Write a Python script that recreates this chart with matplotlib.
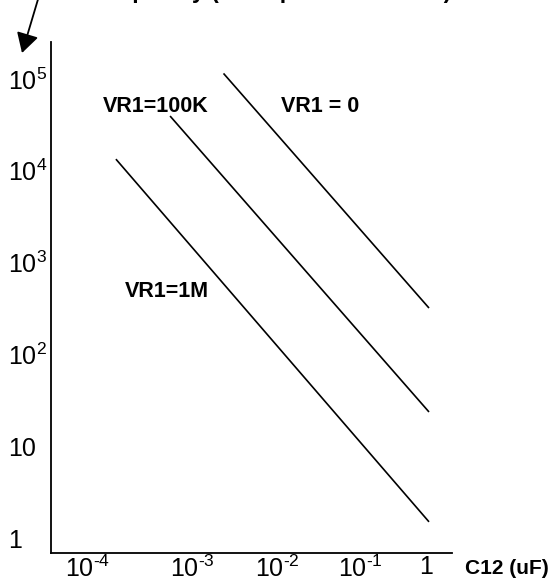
import matplotlib
matplotlib.use("Agg")
import matplotlib.pyplot as plt
from matplotlib.ticker import FixedLocator, FixedFormatter, NullLocator
from matplotlib.transforms import ScaledTranslation

# ---- data ----
series_names = ["VR1 = 0", "VR1=100K", "VR1=1M"]
c_vr0 = [0.0027, 1.0]
f_vr0 = [1.15e5, 320]
c_vr100k = [5.8e-4, 1.0]
f_vr100k = [3.95e4, 23.6]
c_vr1m = [1.22e-4, 1.0]
f_vr1m = [1.34e4, 1.5]

x_tick_values = [1e-4, 1e-3, 1e-2, 1e-1, 1]
x_tick_labels = [r"$10^{\text{-}4}$", r"$10^{\text{-}3}$", r"$10^{\text{-}2}$",
                 r"$10^{\text{-}1}$", "1"]
y_tick_values = [1, 10, 1e2, 1e3, 1e4, 1e5]
y_tick_labels = ["1", "10", r"$10^{2}$", r"$10^{3}$", r"$10^{4}$", r"$10^{5}$"]

x_axis_label = "C12 (uF)"
title_text = "Frequency (Hz at pin 3 of the IC1)"

# horizontal nudges (pixels) of the x tick labels, as hand-placed in the original
x_label_dx = [-21, 3, 8, 11, -3]

# ---- style ----
plt.rcParams["font.family"] = ["Liberation Sans", "DejaVu Sans"]
plt.rcParams["mathtext.fontset"] = "custom"
plt.rcParams["mathtext.rm"] = "Liberation Sans"
plt.rcParams["mathtext.it"] = "Liberation Sans:italic"
plt.rcParams["mathtext.bf"] = "Liberation Sans:bold"

W, H = 550, 586
fig = plt.figure(figsize=(W / 100, H / 100), dpi=100)
ax = fig.add_axes([51 / W, 33.3 / H, 401 / W, 510.7 / H])

ax.set_xscale("log")
ax.set_yscale("log")
ax.set_xlim(10 ** -4.725, 10 ** 0.2875)
ax.set_ylim(10 ** -0.16, 10 ** 5.403)

for cx, fy in [(c_vr0, f_vr0), (c_vr100k, f_vr100k), (c_vr1m, f_vr1m)]:
    ax.plot(cx, fy, color="black", lw=1.2, solid_capstyle="butt")

for s in ["top", "right"]:
    ax.spines[s].set_visible(False)
for s in ["left", "bottom"]:
    ax.spines[s].set_linewidth(1.3)

ax.xaxis.set_major_locator(FixedLocator(x_tick_values))
ax.xaxis.set_major_formatter(FixedFormatter(x_tick_labels))
ax.yaxis.set_major_locator(FixedLocator(y_tick_values))
ax.yaxis.set_major_formatter(FixedFormatter(y_tick_labels))
ax.xaxis.set_minor_locator(NullLocator())
ax.yaxis.set_minor_locator(NullLocator())
ax.tick_params(axis="both", length=0, labelsize=18)
ax.tick_params(axis="x", pad=2)
ax.tick_params(axis="y", pad=31)
for lab in ax.get_yticklabels():
    lab.set_ha("left")
for tick, dx in zip(ax.xaxis.get_major_ticks(), x_label_dx):
    tick.label1.set_transform(tick.label1.get_transform()
                              + ScaledTranslation(dx / 100, 0, fig.dpi_scale_trans))

# series labels
ax.text(0.262, 0.873, "VR1=100K", transform=ax.transAxes, ha="center",
        va="center", fontsize=15.5, fontweight="bold")
ax.text(0.671, 0.873, "VR1 = 0", transform=ax.transAxes, ha="center",
        va="center", fontsize=15.5, fontweight="bold")
ax.text(0.289, 0.5105, "VR1=1M", transform=ax.transAxes, ha="center",
        va="center", fontsize=15.5, fontweight="bold")

# axis labels
fig.text(465 / W, 1 - 568.5 / H, x_axis_label, ha="left", va="center",
         fontsize=15, fontweight="bold")
fig.text(89 / W, 1 + 2.5 / H, title_text, ha="left", va="baseline",
         fontsize=16.5, fontweight="bold")

# arrow pointing to y axis
ax.annotate("", xy=(22, H - 53), xytext=(39, H + 4), xycoords="figure pixels",
            textcoords="figure pixels",
            arrowprops=dict(arrowstyle="-|>,head_length=0.6,head_width=0.34",
                            mutation_scale=20, color="black", lw=1.3,
                            shrinkA=0, shrinkB=0),
            annotation_clip=False)

fig.savefig("out.png", dpi=100)
